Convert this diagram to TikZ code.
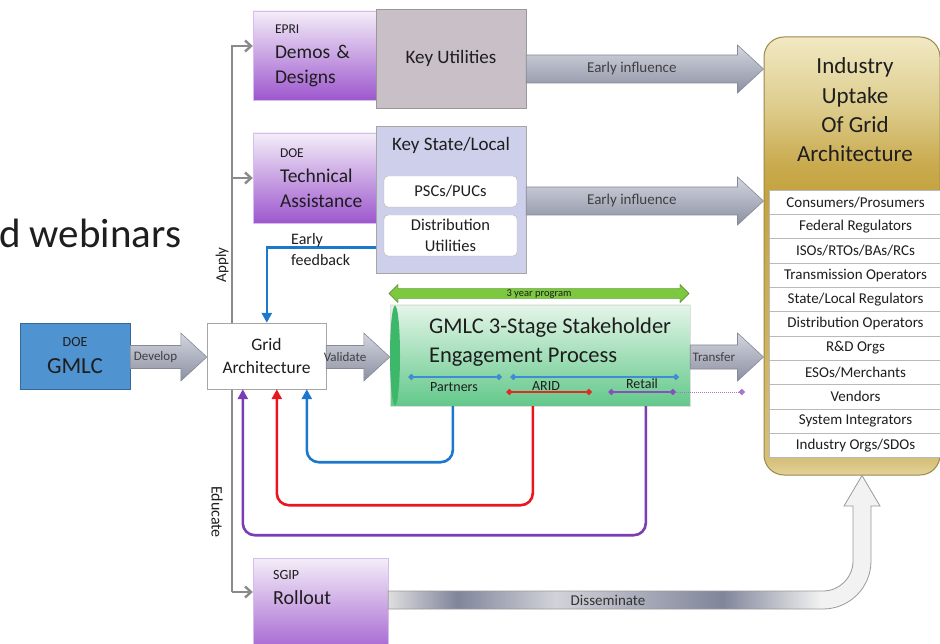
\documentclass[tikz,border=0pt]{standalone}
\usepackage{fontspec}
\setmainfont{Carlito}
\usetikzlibrary{shapes,arrows.meta,calc}

\definecolor{purpleTop}{HTML}{F4EEF8}
\definecolor{purpleBot}{HTML}{9D57CE}
\definecolor{kutilFill}{HTML}{C9BFC6}
\definecolor{kstateFill}{HTML}{CDCFEB}
\definecolor{gmlcFill}{HTML}{4F93D0}
\definecolor{gmlcBord}{HTML}{35699A}
\definecolor{stageTop}{HTML}{E4F5E8}
\definecolor{stageBot}{HTML}{62C88A}
\definecolor{stageEdge}{HTML}{3DB86A}
\definecolor{indA}{HTML}{E3D29A}
\definecolor{indB}{HTML}{D6C07A}
\definecolor{indC}{HTML}{C4A440}
\definecolor{indD}{HTML}{C9AA4E}
\definecolor{indE}{HTML}{DCCB8A}
\definecolor{indF}{HTML}{F1E9C4}
\definecolor{indBord}{HTML}{9C8848}
\definecolor{arrTop}{HTML}{D3D6DF}
\definecolor{arrMid}{HTML}{EDEEF2}
\definecolor{arrBot}{HTML}{8B8FA1}
\definecolor{arrBord}{HTML}{878A96}
\definecolor{yrFill}{HTML}{7CC940}
\definecolor{yrBord}{HTML}{4E7F2A}
\definecolor{fbBlue}{HTML}{1B78CC}
\definecolor{fbRed}{HTML}{E8161E}
\definecolor{fbPurple}{HTML}{7B3DB5}
\definecolor{spineGray}{HTML}{8A8A8A}
\definecolor{dsLight}{HTML}{DEDEE0}
\definecolor{dsDark}{HTML}{80859A}
\definecolor{dsMid}{HTML}{D2D3D9}
\definecolor{dsWhite}{HTML}{F2F2F2}
\definecolor{txt}{HTML}{1E1E1E}

\pgfdeclarehorizontalshading{dissem}{100bp}{color(0bp)=(dsLight); color(25bp)=(dsLight); color(32bp)=(dsDark); color(42bp)=(dsMid); color(59bp)=(dsDark); color(69bp)=(dsWhite); color(100bp)=(dsWhite)}
\pgfdeclareverticalshading{indshade}{100bp}{color(0bp)=(indA); color(25bp)=(indA); color(26.7bp)=(indB); color(57.5bp)=(indC); color(60.4bp)=(indD); color(66.7bp)=(indE); color(75bp)=(indF); color(100bp)=(indF)}

\tikzset{
  fs/.style 2 args={font=\fontsize{#1}{#2}\selectfont},
  pbox/.style={top color=purpleTop, bottom color=purpleBot, draw=purpleBot!40, align=left, inner sep=0pt, fs={19.5}{25}},
  rbox/.style={draw=gray!60, fill=white, rounded corners=4pt, minimum width=133pt, align=center, inner sep=1pt, fs={16.5}{21}},
  row/.style={draw=gray!55, fill=white, minimum width=173pt, minimum height=24.3pt, inner sep=0pt, fs={15}{17}},
  fat/.style={top color=arrTop, middle color=arrMid, bottom color=arrBot, draw=arrBord, line width=0.6pt},
  spine/.style={spineGray, line width=2.4pt, -{Straight Barb[length=6pt,width=11pt]}},
  fb/.style={line width=2.6pt, rounded corners=12pt, -{Triangle[length=10pt,width=10pt]}},
  trk/.style={line width=1.2pt, {Diamond[length=6.5pt,width=6.5pt]}-{Diamond[length=6.5pt,width=6.5pt]}},
}

\begin{document}
\begin{tikzpicture}[x=1pt, y=-1pt, text=txt]
\useasboundingbox (0,0) rectangle (940,644);
\fill[white] (0,0) rectangle (940,644);
% slide text
\node[anchor=west, inner sep=0pt, fs={41}{44}] (webinar) at (-1,233) {d webinars};

% apply boxes
\node[pbox, minimum width=123pt, minimum height=89pt, text width=79pt] (epri) at (314.5,55.5)
  {{\fontsize{13.5}{15}\selectfont EPRI}\\ Demos \&\\ Designs};
\node[draw=gray!80, fill=kutilFill, minimum width=150pt, minimum height=99pt, fs={19}{23}] (kutil) at (451,58.5) {Key Utilities};
\node[pbox, minimum width=123pt, minimum height=90pt, text width=69pt] (doeta) at (314.5,178)
  {{\fontsize{13.5}{15}\selectfont DOE}\\ Technical\\ Assistance};
\node[draw=gray!70, fill=kstateFill, minimum width=150pt, minimum height=147pt] (kstate) at (451,199.5) {};
\node[fs={19}{23}] (kstate-t) at (451,145) {Key State/Local};
\node[rbox, minimum height=31pt] (pscs) at (450.5,191.5) {PSCs/PUCs};
\node[rbox, minimum height=41pt] (distu) at (450.5,235.5) {Distribution\\Utilities};

% rollout box
\node[pbox, minimum width=135pt, minimum height=102pt] (sgip) at (320.5,609) {};
\node[anchor=north west, align=left, inner sep=0pt, fs={20}{25}] (sgip-t) at (273,570.5)
  {{\fontsize{14}{16}\selectfont SGIP}\\Rollout};

% industry uptake
\node[shading=indshade, draw=indBord, line width=1pt,
  rounded corners=20pt, minimum width=176pt, minimum height=438pt] (industry) at (852,256) {};
\node[align=center, fs={23}{29.4}] (industry-t) at (855,110) {Industry\\Uptake\\Of Grid\\Architecture};
\foreach \t [count=\i] in {Consumers/Prosumers, Federal Regulators, ISOs/RTOs/BAs/RCs,
    Transmission Operators, State/Local Regulators, Distribution Operators, R\&D Orgs,
    ESOs/Merchants, Vendors, System Integrators, Industry Orgs/SDOs}
  \node[row] (row\i) at (855.5,{190+(\i-0.5)*24.3}) {\t};

% gmlc
\node[draw=gmlcBord, fill=gmlcFill, minimum width=110pt, minimum height=66pt, align=center, fs={23}{27}] (gmlc) at (75,356)
  {{\fontsize{14}{16}\selectfont DOE}\\GMLC};

% apply / educate spine
\coordinate (sptop) at (232,46);
\coordinate (spbot) at (232,592);
\draw[spine] (spbot) -- (sptop) -- (sptop -| epri.west);
\draw[spine] (sptop |- doeta.west) -- (doeta.west);
\draw[spine] (spbot) -- (spbot -| sgip.west);
\node[rotate=90, fs={15}{17}] (apply) at (222,265) {Apply};
\node[rotate=-90, fs={16}{18}] (educate) at (217,512) {Educate};

\node[draw=gray!70, fill=white, minimum width=119pt, minimum height=66pt, align=center, fs={17.5}{23}] (grid) at (266.5,356)
  {Grid\\Architecture};

% stakeholder process
\node[top color=stageTop, bottom color=stageBot, draw=gray!25, minimum width=300pt, minimum height=101pt] (stage) at (540,355.5) {};
\fill[stageEdge] (395,355.5) ellipse [x radius=5pt, y radius=50pt];
\node[anchor=west, align=left, inner sep=0pt, fs={22.5}{29}] (stage-t) at (429,342) {GMLC 3-Stage Stakeholder\\Engagement Process};
\draw[trk, fbBlue!85] (408,377) -- (502,377);
\draw[trk, fbBlue!85] (510,377) -- (679,377);
\draw[trk, fbRed!80!brown] (506,392) -- (592,392);
\draw[trk, fbPurple!90] (608,392) -- (676,392);
\draw[fbPurple!70, densely dotted, line width=1pt, -{Diamond[length=6.5pt,width=6.5pt]}] (676,392) -- (745,392);
\node[fs={14}{16}] (partners) at (454,387) {Partners};
\node[fs={14}{16}] (arid) at (546,386) {ARID};
\node[fs={14}{16}] (retail) at (642,384) {Retail};
\node[double arrow, draw=yrBord, fill=yrFill, minimum height=300pt, inner sep=0.5pt,
  double arrow head extend=4pt, fs={10.5}{11}] (yr) at (539,293.5) {3 year program};

% fat arrows
\foreach \a/\b/\ya/\h/\t/\s in {kutil/industry/69/14/Early influence/15,
    kstate/industry/201/14/Early influence/15, gmlc/grid/357/11.5/Develop/13,
    grid/stage/357/11.5/Validate/13, stage/industry/357/12/Transfer/13}
  \path[fat] let \p1=(\a.east), \p2=(\b.west), \p3=(0,\ya) in
    (\x1,\y3+\h) -- ({\x2-26},\y3+\h) -- ({\x2-26},\y3+24) -- (\x2,\y3)
    -- ({\x2-26},\y3-24) -- ({\x2-26},\y3-\h) -- (\x1,\y3-\h) -- cycle
    ({(\x1+\x2-26)/2},\y3) node[fs={\s}{\s}, text=black!75] (\a-\b-lbl) {\t};

% feedback
\draw[fb, fbBlue, sharp corners] ([yshift=-48pt]kstate.west) -| ([xshift=60pt]grid.north west);
\node[anchor=west, align=left, inner sep=0pt, fs={16}{21}] (efb) at (291,249.5) {Early\\feedback};
\draw[fb, fbBlue] ([xshift=63pt]stage.south west) -- ++(0,56) -| ([xshift=100pt]grid.south west);
\draw[fb, fbRed] ([xshift=143pt]stage.south west) -- ++(0,99) -| ([xshift=70pt]grid.south west);
\draw[fb, fbPurple] ([xshift=256pt]stage.south west) -- ++(0,129) -| ([xshift=36pt]grid.south west);

% disseminate
\path[shading=dissem, draw=gray!80, line width=0.8pt] ([yshift=18pt]sgip.east) -- (823,591)
  arc[start angle=-90, end angle=0, radius=30pt] -- (853,506) -- (844,506) -- ([xshift=10pt]industry.south)
  -- (880,506) -- (871,506) -- (871,561) arc[start angle=0, end angle=-90, radius=48pt]
  -- ([yshift=0pt]sgip.east) -- cycle;
\node[fs={15}{17}, text=black!80] (dissem-lbl) at (608,600) {Disseminate};
\end{tikzpicture}
\end{document}
